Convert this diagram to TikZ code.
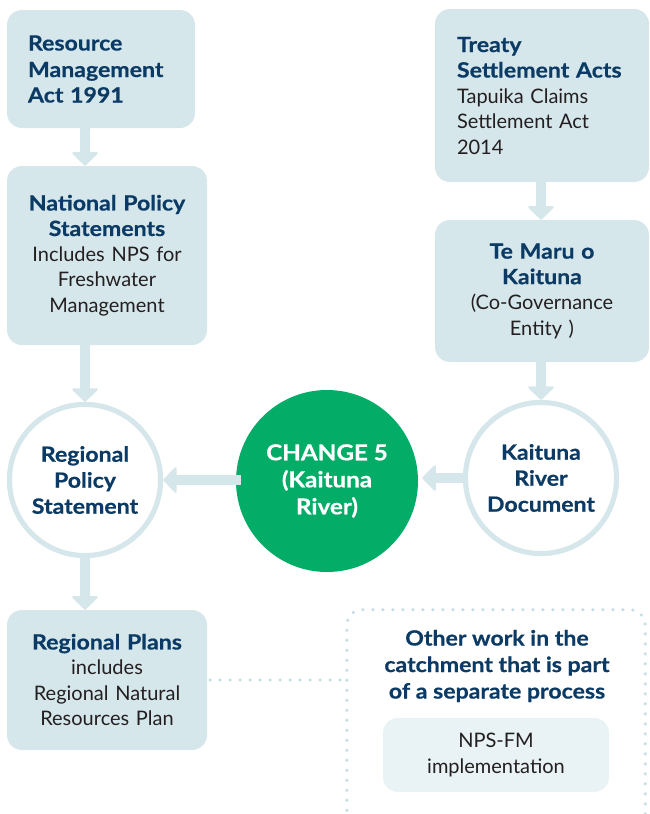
\documentclass[tikz,border=0pt]{standalone}
\usepackage{fontspec}
\setmainfont{Lato}[BoldFeatures={FakeStretch=1.1,FakeBold=0.6}]
\usetikzlibrary{arrows.meta,calc}
\definecolor{boxc}{HTML}{D6E7EC}
\definecolor{navy}{HTML}{0B3B65}
\definecolor{grn}{HTML}{03AC67}
\definecolor{innerc}{HTML}{E9F2F4}
\definecolor{dotc}{HTML}{C5DDE4}
\definecolor{txt}{HTML}{231F20}
\newcommand\hd[1]{{\fontsize{21}{26.5}\selectfont\bfseries\color{navy}#1}}
\begin{document}
\begin{tikzpicture}[x=1pt,y=-1pt,
  font=\fontsize{20}{25.5}\selectfont,
  box/.style={fill=boxc, rounded corners=15pt, inner sep=0pt, text=txt},
  ring/.style={circle, draw=boxc, line width=5pt, minimum size=151pt, inner sep=0pt,
    fill=white, align=center, text=navy, font=\fontsize{21}{26}\selectfont\bfseries},
  arr/.style={draw=boxc, line width=10pt,
    -{Triangle[width=28pt,length=14pt,round,line width=2pt]}},
  dots/.style={draw=dotc, line width=3.5pt, line cap=round, dash pattern=on 0pt off 10pt}]
\useasboundingbox (0,0) rectangle (649,814);

% boxes
\node[box, minimum width=188pt, minimum height=118pt, text width=146pt, align=left]
  (rma) at (101,69) {\hd{Resource\\Management\\Act 1991}};
\node[box, minimum width=200pt, minimum height=179pt, text width=190pt, align=center]
  (nps) at (107,255.5) {\hd{National Policy\\Statements}\\Includes NPS for\\Freshwater\\Management\\[-8pt]};
\node[box, minimum width=214pt, minimum height=173pt, text width=170pt, align=left]
  (treaty) at (542,95.5) {\hd{Treaty\\Settlement Acts}\\Tapuika Claims\\Settlement Act\\2014};
\node[box, minimum width=214pt, minimum height=142pt, text width=200pt, align=center]
  (temaru) at (542,291) {\hd{Te Maru o\\Kaituna}\\(Co-Governance\\Entity )};
\node[box, minimum width=200pt, minimum height=140pt, text width=190pt, align=center]
  (plans) at (107,680) {\hd{Regional Plans}\\includes\\Regional Natural\\Resources Plan};

% circles
\node[ring] (rps) at (85,480) {Regional\\Policy\\Statement};
\node[ring] (krd) at (541,478) {Kaituna\\River\\Document};

% arrows
\draw[arr] (rma.south -| rps) -- (nps.north -| rps);
\draw[arr] (nps.south -| rps) -- (rps.north);
\draw[arr] (rps.south) -- (plans.north -| rps);
\draw[arr] (treaty.south -| krd) -- (temaru.north -| krd);
\draw[arr] (temaru.south -| krd) -- (krd.north);

\node[circle, fill=grn, minimum size=182pt, inner sep=0pt, align=center, text=white,
  font=\fontsize{22}{27}\selectfont\bfseries] (chg) at (327,481) {CHANGE 5\\(Kaituna\\River)};
\draw[arr] ([xshift=5pt]chg.west |- rps) -- (rps.east);
\draw[arr, shorten >=4pt] (krd.west) -- (krd.west -| chg.east);
\node[ring] at (rps) {Regional\\Policy\\Statement};
\node[ring] at (krd) {Kaituna\\River\\Document};

% other work
\node[minimum width=298pt, minimum height=220pt, inner sep=0pt] (other) at (496,720) {};
\draw[dots, rounded corners=15pt] (other.south west) -- (other.north west) -- (other.north east) -- (other.south east);
\node[align=center, text=navy, font=\fontsize{21}{26.5}\selectfont\bfseries] (othertitle) at (497,666)
  {Other work in the\\catchment that is part\\of a separate process};
\node[box, fill=innerc, minimum width=226pt, minimum height=74pt, align=center] (npsfm) at (496,755)
  {NPS-FM\\implementation};
\draw[dots] ([xshift=3pt]plans.east) -- (plans.east -| other.west);
\end{tikzpicture}
\end{document}
